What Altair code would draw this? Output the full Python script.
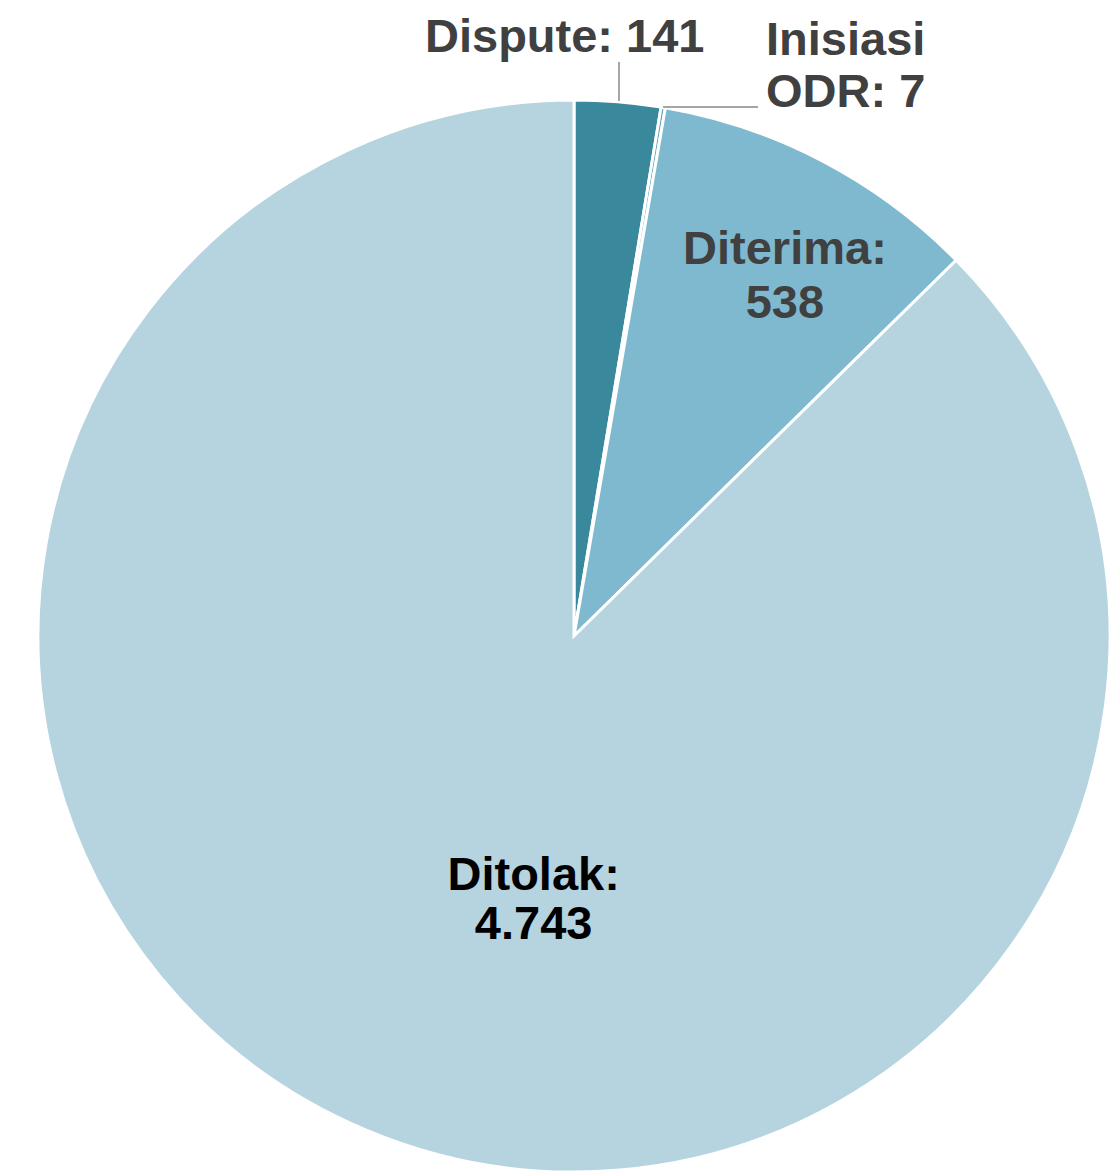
import altair as alt
import pandas as pd

categories = ["Dispute", "Inisiasi ODR", "Diterima", "Ditolak"]
values = [141, 7, 538, 4743]
labels = ["Dispute: 141", "Inisiasi\nODR: 7", "Diterima:\n538", "Ditolak:\n4.743"]
colors = ["#3a889b", "#5fa4b8", "#7fb9cf", "#b5d4df"]

df = pd.DataFrame({
    "cat": categories,
    "value": values,
    "label": labels,
    "order": list(range(len(categories))),
})

R = 536
FONT = "Liberation Sans"

base = alt.Chart(df).encode(
    theta=alt.Theta("value:Q", stack=True),
    order=alt.Order("order:Q", sort="ascending"),
)

pie = base.mark_arc(radius=R, stroke="white", strokeWidth=3).encode(
    color=alt.Color("cat:N", scale=alt.Scale(domain=categories, range=colors), legend=None)
)


def label_layer(cat, radius, dx, align, color, line_height=52):
    return base.transform_calculate(
        t=f"datum.cat == '{cat}' ? datum.label : ''"
    ).mark_text(
        radius=radius, dx=dx, align=align, baseline="alphabetic",
        font=FONT, fontSize=47, fontWeight="bold", color=color,
        lineBreak="\n", lineHeight=line_height,
    ).encode(text="t:N")


lab_dispute = label_layer("Dispute", 586, -57, "center", "#404040")
lab_odr = label_layer("Inisiasi ODR", 589, 94, "left", "#404040")
lab_diterima = label_layer("Diterima", 420, 16, "center", "#404040", 54)
lab_ditolak = label_layer("Ditolak", 275, 66, "center", "#000000", 49)

# leader lines
lead_df = pd.DataFrame({"k": [0]})
lead1 = alt.Chart(lead_df).mark_rule(color="#a6a6a6", strokeWidth=2).encode(
    x=alt.value(619 - 33), y=alt.value(62 - 100), y2=alt.value(101 - 100)
)
lead2 = alt.Chart(lead_df).mark_rule(color="#a6a6a6", strokeWidth=2).encode(
    x=alt.value(663 - 33), x2=alt.value(758 - 33), y=alt.value(107 - 100)
)

chart = alt.layer(pie, lead1, lead2, lab_dispute, lab_odr, lab_diterima, lab_ditolak).properties(
    width=1082,
    height=1072,
    padding={"left": 33, "top": 100, "right": 0, "bottom": 0},
    autosize=alt.AutoSizeParams(type="none"),
    background="white",
).configure_view(stroke=None)

chart.save("out.html", embed_options={"renderer": "svg", "actions": False})
